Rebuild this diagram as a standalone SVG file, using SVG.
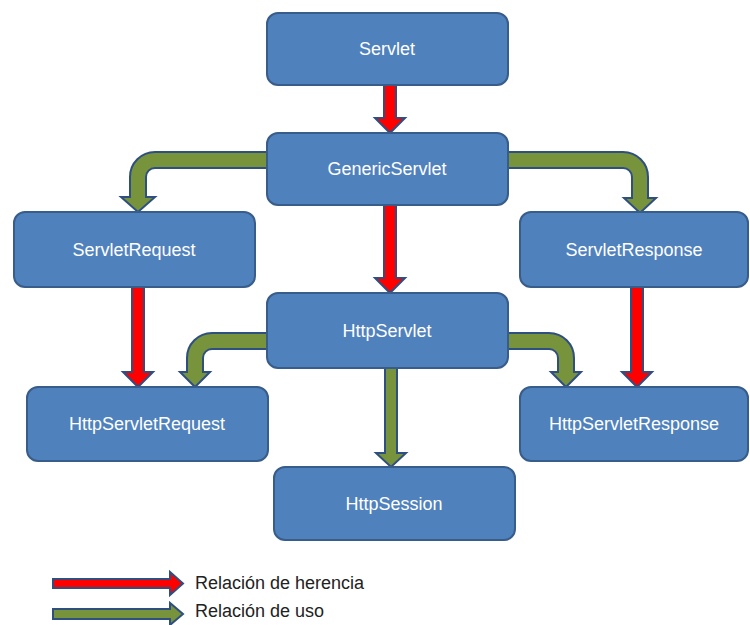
<svg xmlns="http://www.w3.org/2000/svg" width="750" height="625" viewBox="0 0 750 625">
<style>
.box{fill:#4F81BD;stroke:#385D8A;stroke-width:2}
.lbl{fill:#FFFFFF;font-family:"Liberation Sans",Arial,sans-serif;font-size:18px;text-anchor:middle}
.inh{fill:#FF0000;stroke:#2F4F80;stroke-width:2;stroke-linejoin:miter}
.use{fill:#77933C;stroke:#2F4F80;stroke-width:2;stroke-linejoin:miter}
.leg{fill:#222222;font-family:"Liberation Sans",Arial,sans-serif;font-size:18px}
</style>
<rect width="750" height="625" fill="#FFFFFF"/>
<g id="connectors">
<path class="inh" d="M384 85 L396 85 L396 118 L405 118 L390 133 L375 118 L384 118 Z"/>
<path class="inh" d="M384 205 L396 205 L396 278 L405 278 L390 293 L375 278 L384 278 Z"/>
<path class="inh" d="M132 287 L144 287 L144 372 L153 372 L138 387 L123 372 L132 372 Z"/>
<path class="inh" d="M631 287 L643 287 L643 372 L652 372 L637 387 L622 372 L631 372 Z"/>
<path class="use" d="M385 368 L397 368 L397 453 L406 453 L391 467 L376 453 L385 453 Z"/>
<path class="use" d="M267 152 L155 152 A25 25 0 0 0 130 177 L130 197 L121 197 L138 212 L155 197 L146 197 L146 177 A9 9 0 0 1 155 168 L267 168 Z"/>
<path class="use" d="M508 152 L623 152 A25 25 0 0 1 648 177 L648 198 L656 198 L640 213 L624 198 L632 198 L632 177 A9 9 0 0 0 623 168 L508 168 Z"/>
<path class="use" d="M267 333 L212 333 A25 25 0 0 0 187 358 L187 372 L180 372 L195 387 L210 372 L203 372 L203 358 A9 9 0 0 1 212 349 L267 349 Z"/>
<path class="use" d="M508 333 L549 333 A25 25 0 0 1 574 358 L574 372 L581 372 L566 387 L551 372 L558 372 L558 358 A9 9 0 0 0 549 349 L508 349 Z"/>
</g>
<g id="servlet"><rect class="box" x="267" y="13" width="241" height="72" rx="11"/><text class="lbl" x="387" y="55">Servlet</text></g>
<g id="genericservlet"><rect class="box" x="267" y="133" width="241" height="72" rx="11"/><text class="lbl" x="387" y="175">GenericServlet</text></g>
<g id="servletrequest"><rect class="box" x="14" y="212" width="241" height="75" rx="11"/><text class="lbl" x="134" y="256">ServletRequest</text></g>
<g id="servletresponse"><rect class="box" x="520" y="212" width="228" height="75" rx="11"/><text class="lbl" x="634" y="256">ServletResponse</text></g>
<g id="httpservlet"><rect class="box" x="267" y="293" width="241" height="75" rx="11"/><text class="lbl" x="387" y="337">HttpServlet</text></g>
<g id="httpservletrequest"><rect class="box" x="27" y="387" width="241" height="74" rx="11"/><text class="lbl" x="147" y="430">HttpServletRequest</text></g>
<g id="httpservletresponse"><rect class="box" x="520" y="387" width="228" height="74" rx="11"/><text class="lbl" x="634" y="430">HttpServletResponse</text></g>
<g id="httpsession"><rect class="box" x="274" y="467" width="241" height="73" rx="11"/><text class="lbl" x="394" y="510">HttpSession</text></g>
<g id="legend">
<path class="inh" d="M53 579 L170 579 L170 572 L183 583.5 L170 595 L170 588 L53 588 Z"/>
<text class="leg" x="195" y="589">Relación de herencia</text>
<path class="use" d="M53 609 L170 609 L170 603 L183 614 L170 625 L170 619 L53 619 Z"/>
<text class="leg" x="195" y="617">Relación de uso</text>
</g>
</svg>
